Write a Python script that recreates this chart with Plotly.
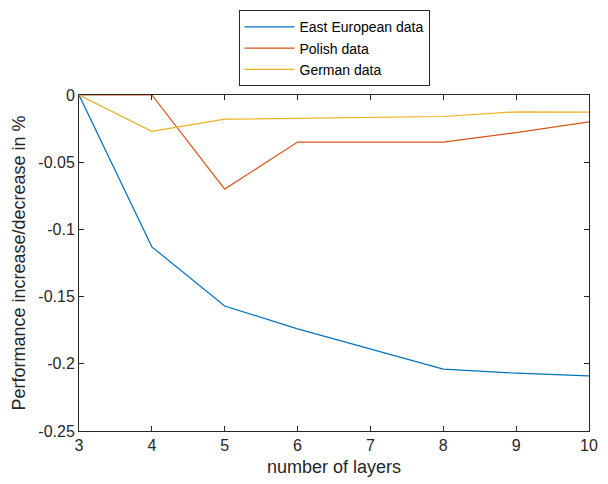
import plotly.graph_objects as go

layers = [3, 4, 5, 6, 8, 9, 10]
east_european = [0, -0.113, -0.157, -0.174, -0.204, -0.207, -0.209]
polish = [0, 0, -0.070, -0.035, -0.035, -0.028, -0.020]
german = [0, -0.027, -0.018, -0.0175, -0.016, -0.0125, -0.0128]

series = [
    ("East European data", east_european, "#0072BD"),
    ("Polish data", polish, "#D95319"),
    ("German data", german, "#EDB120"),
]

fig = go.Figure()
for name, vals, col in series:
    fig.add_trace(go.Scatter(x=layers, y=vals, mode="lines", name=name,
                             line=dict(color=col, width=1.2)))

axis_common = dict(showgrid=False, zeroline=False, showline=True, linecolor="#262626",
                   linewidth=1, mirror="ticks", ticks="inside", ticklen=5,
                   tickcolor="#262626", tickfont=dict(size=16, color="#262626"))

fig.update_layout(
    width=608, height=484,
    margin=dict(l=79, r=10, t=92, b=51),
    paper_bgcolor="white", plot_bgcolor="white",
    font=dict(family="Liberation Sans, Arial, sans-serif", color="#262626"),
    xaxis=dict(range=[3, 10], dtick=1, title=dict(text="number of layers", font=dict(size=18), standoff=7),
               **axis_common),
    yaxis=dict(range=[-0.25, 0], tickvals=[0, -0.05, -0.1, -0.15, -0.2, -0.25],
               ticktext=["0", "-0.05", "-0.1", "-0.15", "-0.2", "-0.25"],
               title=dict(text="Performance increase/decrease in %", font=dict(size=18), standoff=8),
               **axis_common),
    legend=dict(x=0.5, xanchor="center", y=1.252, yanchor="top",
                bordercolor="#262626", borderwidth=1, bgcolor="white", itemwidth=50,
                font=dict(size=14, color="#000000"), tracegroupgap=0),
    showlegend=True,
)

fig.write_html("out.html")
